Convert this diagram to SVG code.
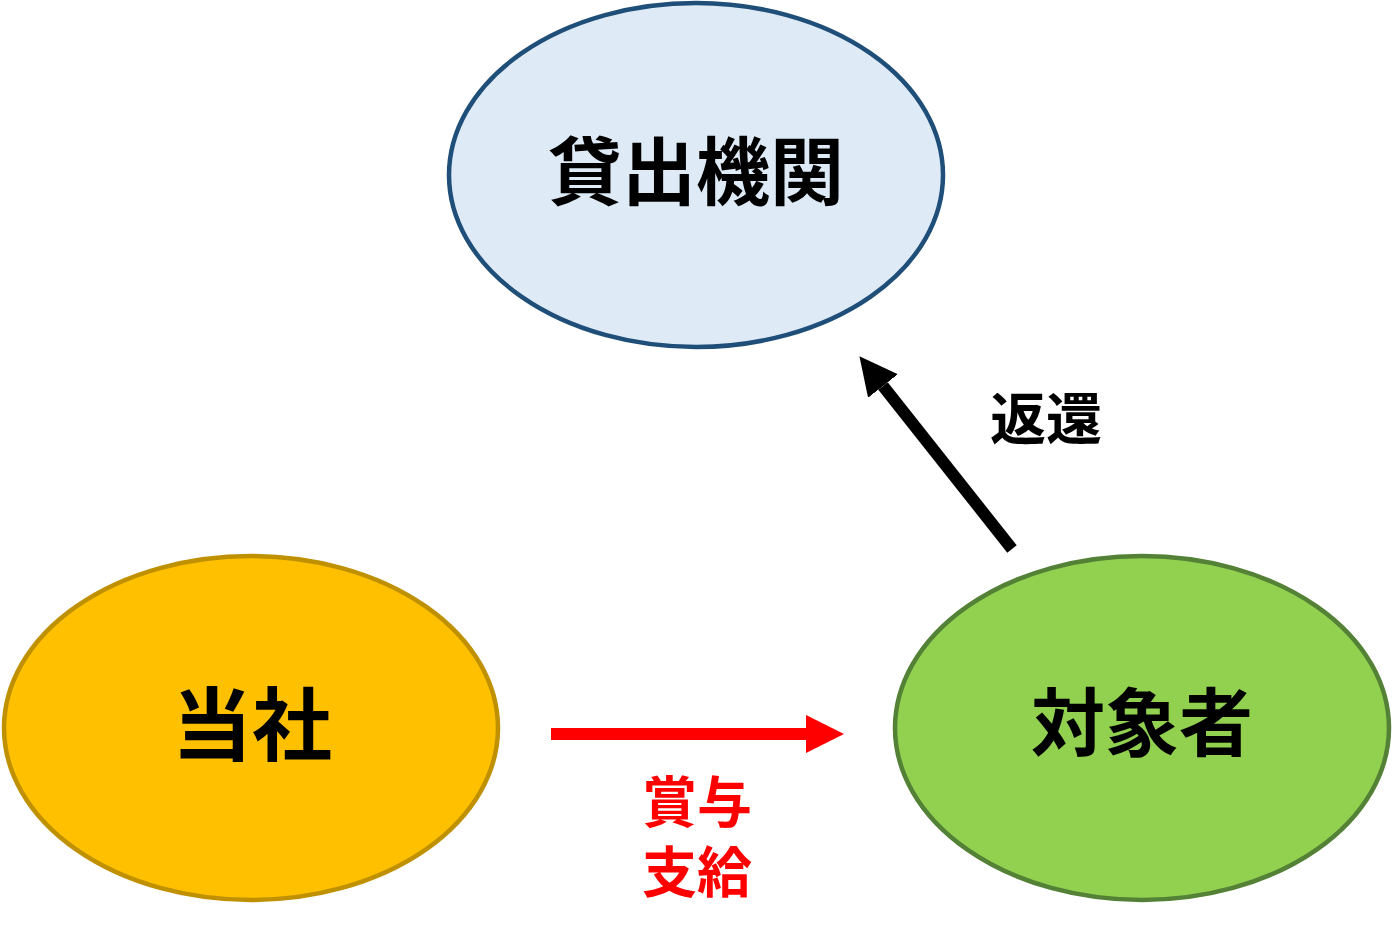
<svg xmlns="http://www.w3.org/2000/svg" width="1393" height="944" viewBox="0 0 1393 944">
<style>
.lbl{font-family:"Noto Sans CJK JP","Noto Sans CJK SC",sans-serif;font-weight:bold;text-anchor:middle;}
.node{stroke-width:4.5;}
</style>
<defs>
<marker id="ahR" markerUnits="userSpaceOnUse" markerWidth="40" markerHeight="40" refX="0" refY="19" orient="auto"><path d="M0,0 L38,19 L0,38 z" fill="#FF0000"/></marker>
<marker id="ahK" markerUnits="userSpaceOnUse" markerWidth="40" markerHeight="40" refX="0" refY="19" orient="auto"><path d="M0,0 L38,19 L0,38 z" fill="#000000"/></marker>
</defs>
<rect width="1393" height="944" fill="#FFFFFF"/>
<g id="lender">
<ellipse class="node" cx="696" cy="175" rx="247" ry="172" fill="#DEEBF7" stroke="#1F4E79"/>
<text class="lbl" x="696" y="199" font-size="74" fill="#000">貸出機関</text>
</g>
<g id="company">
<ellipse class="node" cx="251" cy="728" rx="247" ry="172" fill="#FFC000" stroke="#BF9000"/>
<text class="lbl" x="252" y="754" font-size="80" fill="#000">当社</text>
</g>
<g id="target">
<ellipse class="node" cx="1142" cy="728" rx="247" ry="172" fill="#92D050" stroke="#538135"/>
<text class="lbl" x="1142" y="750" font-size="74" fill="#000">対象者</text>
</g>
<g id="connectors">
<line x1="551" y1="734" x2="806" y2="734" stroke="#FF0000" stroke-width="12" marker-end="url(#ahR)"/>
<line x1="1012" y1="549" x2="883" y2="386" stroke="#000000" stroke-width="12" marker-end="url(#ahK)"/>
<text class="lbl" x="697" y="822" font-size="55" fill="#FF0000">賞与</text>
<text class="lbl" x="697" y="892" font-size="55" fill="#FF0000">支給</text>
<text class="lbl" x="1046" y="439" font-size="56" fill="#000">返還</text>
</g>
</svg>
